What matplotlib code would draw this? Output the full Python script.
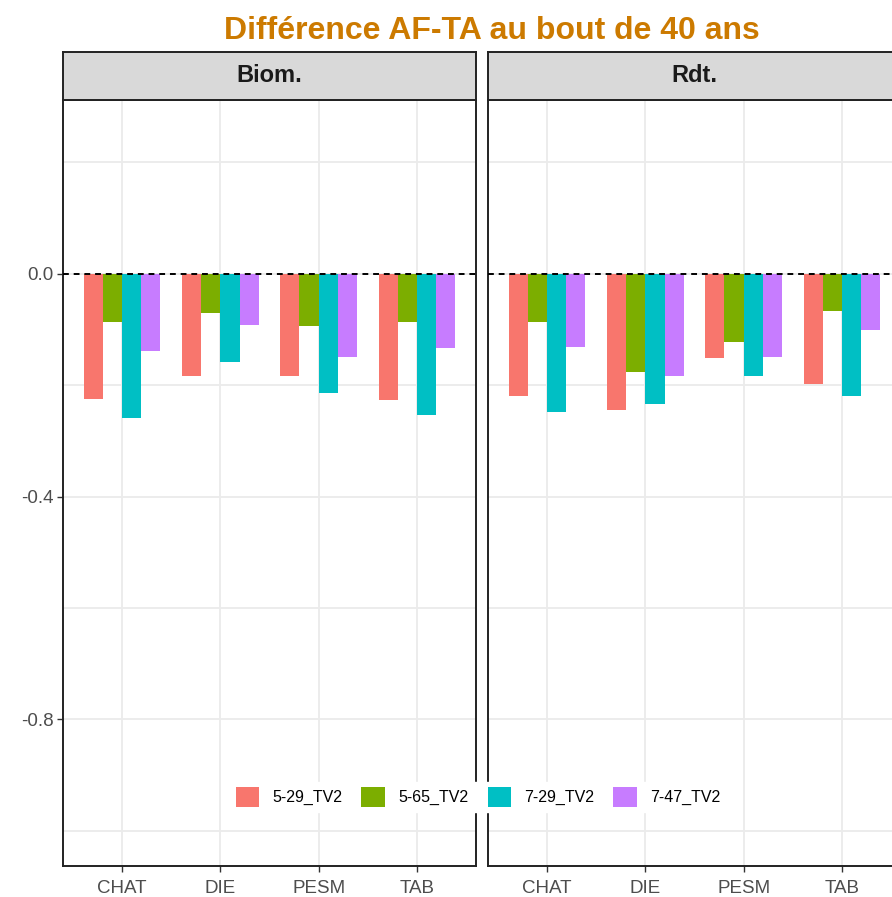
import numpy as np
import matplotlib.pyplot as plt
from matplotlib.patches import Patch

plt.rcParams['font.family'] = ['Liberation Sans', 'DejaVu Sans']

categories = ['CHAT', 'DIE', 'PESM', 'TAB']
series = ['5-29_TV2', '5-65_TV2', '7-29_TV2', '7-47_TV2']
colors = ['#F8766D', '#7CAE00', '#00BFC4', '#C77CFF']
panels = ['Biom.', 'Rdt.']

biom = {
    '5-29_TV2': [-0.224, -0.183, -0.183, -0.227],
    '5-65_TV2': [-0.087, -0.071, -0.094, -0.087],
    '7-29_TV2': [-0.259, -0.159, -0.214, -0.254],
    '7-47_TV2': [-0.138, -0.091, -0.149, -0.134],
}
rdt = {
    '5-29_TV2': [-0.220, -0.245, -0.152, -0.197],
    '5-65_TV2': [-0.087, -0.176, -0.122, -0.066],
    '7-29_TV2': [-0.248, -0.234, -0.183, -0.220],
    '7-47_TV2': [-0.132, -0.183, -0.149, -0.100],
}
data = [biom, rdt]

fig = plt.figure(figsize=(8.92, 8.97), dpi=100)
fig.patch.set_facecolor('white')

panel_w = 413 / 892
panel_h = 766 / 897
panel_b = 1 - 866 / 897
lefts = [63 / 892, 488 / 892]
strip_b = 1 - 100 / 897
strip_h = 48 / 897

x = np.arange(1, len(categories) + 1)
group_w = 0.78
bar_w = group_w / len(series)

for i, (name, d) in enumerate(zip(panels, data)):
    ax = fig.add_axes([lefts[i], panel_b, panel_w, panel_h])
    for k, s in enumerate(series):
        offs = -group_w / 2 + bar_w * (k + 0.5)
        ax.bar(x + offs, d[s], width=bar_w, color=colors[k], zorder=2)
    ax.axhline(0, color='black', linestyle=(0, (3, 2.5)), linewidth=1.4, zorder=3)

    ax.set_xlim(0.4, 4.6)
    ax.set_ylim(-1.063, 0.312)
    ax.set_xticks(x)
    ax.set_xticklabels(categories)
    ax.set_yticks([0.0, -0.4, -0.8])
    ax.set_yticks([0.2, -0.2, -0.6, -1.0], minor=True)
    ax.grid(True, which='major', color='#EBEBEB', linewidth=1.3, zorder=0)
    ax.grid(True, which='minor', axis='y', color='#EBEBEB', linewidth=1.3, zorder=0)
    ax.set_axisbelow(True)
    ax.tick_params(axis='both', which='major', colors='#333333', labelcolor='#4D4D4D',
                   labelsize=13.5, length=4, width=1, pad=3)
    ax.tick_params(axis='x', which='major', pad=6)
    ax.tick_params(axis='y', which='minor', length=0)
    if i == 0:
        ax.set_yticklabels(['0.0', '-0.4', '-0.8'])
    else:
        ax.tick_params(axis='y', which='major', length=0, labelleft=False)
    for sp in ax.spines.values():
        sp.set_color('#222222')
        sp.set_linewidth(1.4)

    strip = fig.add_axes([lefts[i], strip_b, panel_w, strip_h])
    strip.set_facecolor('#D9D9D9')
    strip.set_xticks([])
    strip.set_yticks([])
    for sp in strip.spines.values():
        sp.set_color('#222222')
        sp.set_linewidth(1.4)
    strip.text(0.5, 0.5, name, ha='center', va='center', fontsize=17,
               fontweight='bold', color='#1A1A1A', transform=strip.transAxes)

fig.text(492 / 892, 1 - 31 / 897, 'Différence AF-TA au bout de 40 ans', ha='center',
         va='center', fontsize=23, fontweight='bold', color='#CC7A00')

handles = [Patch(facecolor=c, edgecolor='none') for c in colors]
leg = fig.legend(handles, series, loc='center', bbox_to_anchor=(478 / 892, 1 - 797 / 897),
                 ncol=4, frameon=True, fontsize=11.5, handlelength=1.45, handleheight=1.6,
                 columnspacing=1.2, handletextpad=0.85, borderpad=0.3)
leg.get_frame().set_edgecolor('white')
leg.get_frame().set_facecolor('white')
leg.get_frame().set_alpha(1)
leg.set_zorder(10)

fig.savefig('out.png', dpi=100)
